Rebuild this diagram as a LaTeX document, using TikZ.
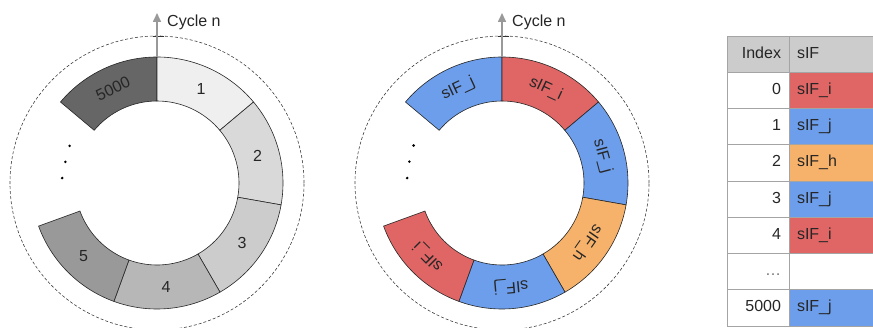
\documentclass[tikz,border=0pt]{standalone}
\usepackage{fontspec}
\setmainfont{Liberation Sans}
\usetikzlibrary{arrows.meta, positioning}
\definecolor{gryA}{HTML}{EFEFEF}
\definecolor{gryB}{HTML}{D9D9D9}
\definecolor{gryC}{HTML}{CCCCCC}
\definecolor{gryD}{HTML}{B7B7B7}
\definecolor{gryE}{HTML}{999999}
\definecolor{gryF}{HTML}{666666}
\definecolor{sifred}{HTML}{E06666}
\definecolor{sifblue}{HTML}{6D9EEB}
\definecolor{siforange}{HTML}{F6B26B}
\definecolor{hdrgray}{HTML}{CCCCCC}
\definecolor{tblline}{HTML}{A4A4A4}
\definecolor{arrowgray}{HTML}{999999}
\tikzset{
  font=\fontsize{16}{19}\selectfont,     % Arial-like text everywhere
  segline/.style    = {draw=black!85, line width=0.6pt},
  seglbl/.style     = {inner sep=0pt, text=black!85},
  dashring/.style   = {draw=black!75, line width=0.6pt, dash pattern=on 3pt off 2pt},
  cyclearrow/.style = {draw=arrowgray, line width=1.6pt, -{Triangle[length=9pt,width=8pt]}},
  cyclbl/.style     = {inner sep=0pt, anchor=west, text=black!85},
  dotmark/.style    = {fill=black},
  idxcell/.style    = {draw=tblline, line width=0.8pt, minimum width=62pt, minimum height=36.25pt,
                       text width=46pt, inner xsep=8pt, inner ysep=0pt, outer sep=0pt,
                       align=right, text height=11.5pt, text depth=3.5pt, text=black!85},
  sifcell/.style    = {idxcell, minimum width=86pt, text width=70pt, align=left}
}
\begin{document}
\begin{tikzpicture}[x=1pt, y=1pt]
  \useasboundingbox (0,0) rectangle (873,327);
  \coordinate (L) at (157,144);
  \coordinate (R) at (502,144);

  % left ring: cycle positions
  \draw[dashring] (L) circle[radius=147];
  \draw[segline, fill=gryF] ([shift={(90:126)}]L) arc[start angle=90, end angle=140, radius=126] -- ([shift={(140:82)}]L) arc[start angle=140, end angle=90, radius=82] -- cycle;
  \draw[segline, fill=gryA] ([shift={(40:126)}]L) arc[start angle=40, end angle=90, radius=126] -- ([shift={(90:82)}]L) arc[start angle=90, end angle=40, radius=82] -- cycle;
  \draw[segline, fill=gryB] ([shift={(-10:126)}]L) arc[start angle=-10, end angle=40, radius=126] -- ([shift={(40:82)}]L) arc[start angle=40, end angle=-10, radius=82] -- cycle;
  \draw[segline, fill=gryC] ([shift={(-60:126)}]L) arc[start angle=-60, end angle=-10, radius=126] -- ([shift={(-10:82)}]L) arc[start angle=-10, end angle=-60, radius=82] -- cycle;
  \draw[segline, fill=gryD] ([shift={(-110:126)}]L) arc[start angle=-110, end angle=-60, radius=126] -- ([shift={(-60:82)}]L) arc[start angle=-60, end angle=-110, radius=82] -- cycle;
  \draw[segline, fill=gryE] ([shift={(-160:126)}]L) arc[start angle=-160, end angle=-110, radius=126] -- ([shift={(-110:82)}]L) arc[start angle=-110, end angle=-160, radius=82] -- cycle;
  \node[seglbl, rotate=25] (lpos5000) at ([shift={(115:104)}]L) {5000};
  \node[seglbl] (lpos1) at ([shift={(65:104)}]L) {1};
  \node[seglbl] (lpos2) at ([shift={(15:104)}]L) {2};
  \node[seglbl] (lpos3) at ([shift={(-35:104)}]L) {3};
  \node[seglbl] (lpos4) at ([shift={(-85:104)}]L) {4};
  \node[seglbl] (lpos5) at ([shift={(-135:104)}]L) {5};
  \fill[dotmark] ([shift={(157:95)}]L) circle[radius=1.4];
  \fill[dotmark] ([shift={(167:94)}]L) circle[radius=1.4];
  \fill[dotmark] ([shift={(177:95)}]L) circle[radius=1.4];
  \coordinate (topL) at ([shift={(90:126)}]L);
  \coordinate (tipL) at (157,314);
  \coordinate (dtopL) at ([shift={(90:147)}]L);
  \draw[black!80, line width=0.9pt] ([xshift=-4pt]dtopL) -- ([xshift=7pt]dtopL);
  \draw[cyclearrow] (topL) -- (tipL);
  \node[cyclbl] (cycL) at ([shift={(10,-9)}]tipL) {Cycle n};

  % right ring: sIF per position
  \draw[dashring] (R) circle[radius=147];
  \draw[segline, fill=sifblue] ([shift={(90:126)}]R) arc[start angle=90, end angle=140, radius=126] -- ([shift={(140:82)}]R) arc[start angle=140, end angle=90, radius=82] -- cycle;
  \draw[segline, fill=sifred] ([shift={(40:126)}]R) arc[start angle=40, end angle=90, radius=126] -- ([shift={(90:82)}]R) arc[start angle=90, end angle=40, radius=82] -- cycle;
  \draw[segline, fill=sifblue] ([shift={(-10:126)}]R) arc[start angle=-10, end angle=40, radius=126] -- ([shift={(40:82)}]R) arc[start angle=40, end angle=-10, radius=82] -- cycle;
  \draw[segline, fill=siforange] ([shift={(-60:126)}]R) arc[start angle=-60, end angle=-10, radius=126] -- ([shift={(-10:82)}]R) arc[start angle=-10, end angle=-60, radius=82] -- cycle;
  \draw[segline, fill=sifblue] ([shift={(-110:126)}]R) arc[start angle=-110, end angle=-60, radius=126] -- ([shift={(-60:82)}]R) arc[start angle=-60, end angle=-110, radius=82] -- cycle;
  \draw[segline, fill=sifred] ([shift={(-160:126)}]R) arc[start angle=-160, end angle=-110, radius=126] -- ([shift={(-110:82)}]R) arc[start angle=-110, end angle=-160, radius=82] -- cycle;
  \node[seglbl, rotate=25] (rsif5000) at ([shift={(115:104)}]R) {sIF\_j};
  \node[seglbl, rotate=-25] (rsif0) at ([shift={(65:104)}]R) {sIF\_i};
  \node[seglbl, rotate=-75] (rsif1) at ([shift={(15:104)}]R) {sIF\_j};
  \node[seglbl, rotate=-125] (rsif2) at ([shift={(-35:104)}]R) {sIF\_h};
  \node[seglbl, rotate=-175] (rsif3) at ([shift={(-85:104)}]R) {sIF\_j};
  \node[seglbl, rotate=135] (rsif4) at ([shift={(-135:104)}]R) {sIF\_i};
  \fill[dotmark] ([shift={(157:96)}]R) circle[radius=1.4];
  \fill[dotmark] ([shift={(167:95)}]R) circle[radius=1.4];
  \fill[dotmark] ([shift={(177:95)}]R) circle[radius=1.4];
  \coordinate (topR) at ([shift={(90:126)}]R);
  \coordinate (tipR) at (502,314);
  \coordinate (dtopR) at ([shift={(90:147)}]R);
  \draw[black!80, line width=0.9pt] ([xshift=-4pt]dtopR) -- ([xshift=7pt]dtopR);
  \draw[cyclearrow] (topR) -- (tipR);
  \node[cyclbl] (cycR) at ([shift={(10,-9)}]tipR) {Cycle n};

  % lookup table
  \node[idxcell, fill=hdrgray, anchor=north west] (ihead) at (727,291) {Index};
  \node[sifcell, fill=hdrgray, right=0pt of ihead] (shead) {sIF};
  \node[idxcell, below=0pt of ihead] (i0) {0};
  \node[sifcell, fill=sifred, right=0pt of i0] (s0) {sIF\_i};
  \node[idxcell, below=0pt of i0] (i1) {1};
  \node[sifcell, fill=sifblue, right=0pt of i1] (s1) {sIF\_j};
  \node[idxcell, below=0pt of i1] (i2) {2};
  \node[sifcell, fill=siforange, right=0pt of i2] (s2) {sIF\_h};
  \node[idxcell, below=0pt of i2] (i3) {3};
  \node[sifcell, fill=sifblue, right=0pt of i3] (s3) {sIF\_j};
  \node[idxcell, below=0pt of i3] (i4) {4};
  \node[sifcell, fill=sifred, right=0pt of i4] (s4) {sIF\_i};
  \node[idxcell, below=0pt of i4, text=black!55] (iskip) {\ldots};
  \node[sifcell, right=0pt of iskip] (sskip) {};
  \node[idxcell, below=0pt of iskip] (i5000) {5000};
  \node[sifcell, fill=sifblue, right=0pt of i5000] (s5000) {sIF\_j};
\end{tikzpicture}
\end{document}
